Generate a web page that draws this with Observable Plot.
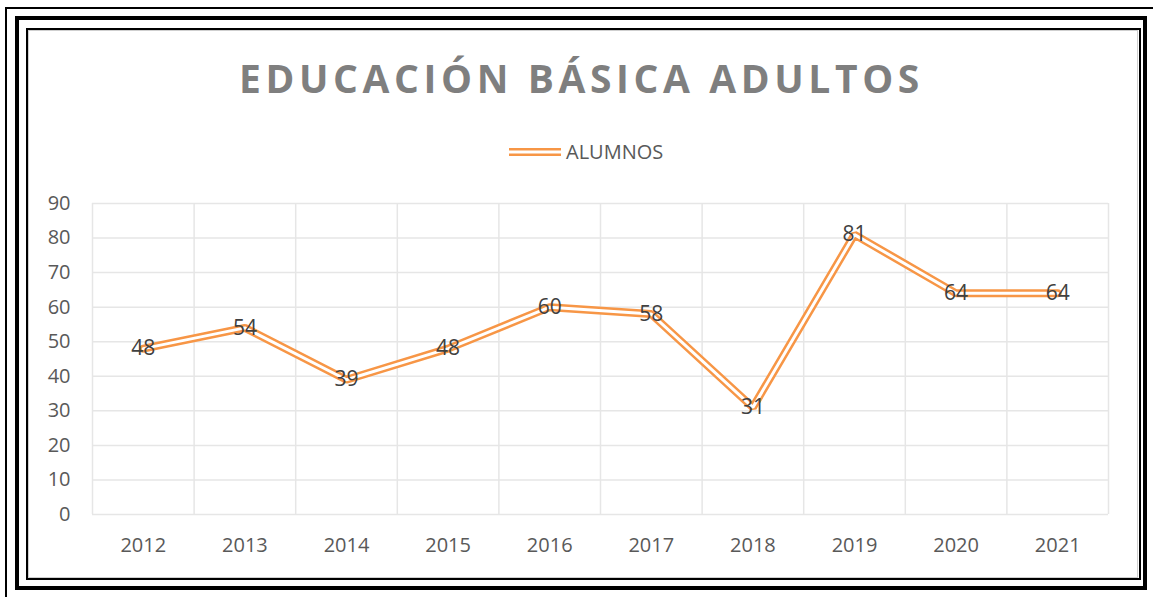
<!DOCTYPE html>
<html>
<head>
<meta charset="utf-8">
<script src="https://cdn.jsdelivr.net/npm/d3@7"></script>
<script src="https://cdn.jsdelivr.net/npm/@observablehq/plot@0.6"></script>
<style>
  html, body { margin: 0; padding: 0; background: #fff; }
  #wrap { position: relative; width: 1153px; height: 597px; overflow: hidden; font-family: "Open Sans", sans-serif; }
  .frame { position: absolute; box-sizing: border-box; }
  #title { position: absolute; left: 5px; width: 1153px; top: 58px; text-align: center; font-weight: 700; font-size: 39px; letter-spacing: 4.6px; color: #7f7f7f; line-height: 1; }
  #legend { position: absolute; top: 142px; left: 509px; display: flex; align-items: center; font-size: 20px; color: #595959; line-height: 1; }
  #chart { position: absolute; left: 0; top: 180px; }
</style>
</head>
<body>
<div id="wrap">
  <div class="frame" style="left:5px;top:7px;width:1200px;height:700px;border-left:2px solid #000;border-top:2px solid #000;"></div>
  <div class="frame" style="left:15px;top:16px;width:1132px;height:574px;border:4px solid #000;"></div>
  <div class="frame" style="left:26px;top:28px;width:1115px;height:552px;border:2px solid #000;"></div>
  <div class="frame" style="left:28px;top:30px;width:1110px;height:548px;border:1px solid #cfcfcf;"></div>
  <div id="title">EDUCACIÓN BÁSICA ADULTOS</div>
  <div id="legend"><svg width="52" height="12" style="margin-right:5px"><line x1="0" x2="52" y1="6" y2="6" stroke="#F79646" stroke-width="8"/><line x1="0" x2="52" y1="6" y2="6" stroke="#fff" stroke-width="3"/></svg>ALUMNOS</div>
  <div id="chart"></div>
</div>
<script>
const years = [2012, 2013, 2014, 2015, 2016, 2017, 2018, 2019, 2020, 2021];
const alumnos = [48, 54, 39, 48, 60, 58, 31, 81, 64, 64];
const yTicks = [0, 10, 20, 30, 40, 50, 60, 70, 80, 90];
const seriesName = "ALUMNOS";

const data = years.map((y, i) => ({year: y, value: alumnos[i]}));
const xGrid = d3.range(years[0] - 0.5, years[years.length - 1] + 1, 1);

const chart = Plot.plot({
  width: 1153,
  height: 380,
  marginLeft: 92,
  marginRight: 45,
  marginTop: 23,
  marginBottom: 46,
  style: {fontFamily: "Open Sans, sans-serif", fontSize: "20px", color: "#595959", background: "transparent"},
  x: {type: "linear", domain: [years[0] - 0.5, years[years.length - 1] + 0.5], label: null},
  y: {domain: [0, 90], label: null},
  marks: [
    Plot.gridY(yTicks, {stroke: "#e6e6e6", strokeOpacity: 1, strokeWidth: 1.5}),
    Plot.gridX(xGrid, {stroke: "#e6e6e6", strokeOpacity: 1, strokeWidth: 1.5}),
    Plot.axisY(yTicks, {tickSize: 0, tickPadding: 22, fontSize: 20, fill: "#595959"}),
    Plot.axisX(years, {tickSize: 0, tickPadding: 23, fontSize: 20, fill: "#595959", tickFormat: d => String(d)}),
    Plot.line(data, {x: "year", y: "value", stroke: "#F79646", strokeWidth: 8, strokeLinejoin: "miter"}),
    Plot.line(data, {x: "year", y: "value", stroke: "#ffffff", strokeWidth: 3, strokeLinejoin: "miter"}),
    Plot.text(data, {x: "year", y: "value", text: d => String(d.value), fill: "#404040", fontSize: 21})
  ]
});
document.getElementById("chart").appendChild(chart);
</script>
</body>
</html>
